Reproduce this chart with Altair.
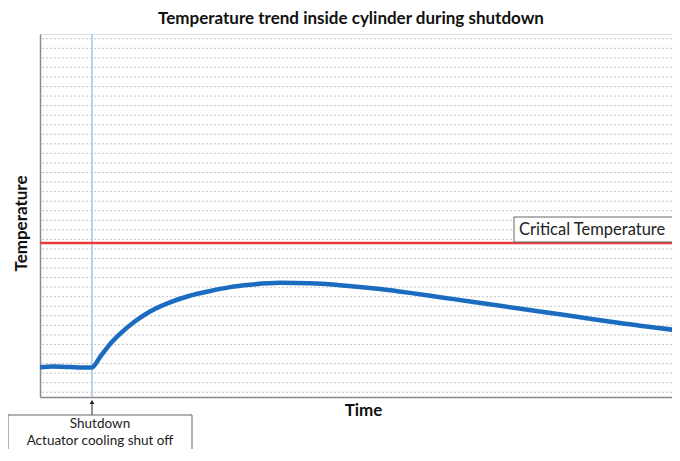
import altair as alt
import pandas as pd

# ---- data ----
time = [0, 2, 4, 6, 8.1, 9.4, 10.9, 12.5, 14.8, 17.2, 20.3, 23.4, 26.6, 29.7,
        32.8, 37.5, 42.2, 46.9, 53.1, 57.8, 62.5, 67.2, 71.9, 78.1, 84.4, 90.6, 100]
temp = [3.1, 3.2, 3.15, 3.1, 3.1, 4.2, 5.5, 6.6, 7.9, 8.95, 9.9, 10.6, 11.1,
        11.5, 11.75, 11.95, 11.9, 11.7, 11.3, 10.9, 10.45, 10.0, 9.55, 8.95,
        8.35, 7.75, 6.95]
critical_temp = [16.12]
shutdown_time = [8.125]
grid_values = [k + 0.5 for k in range(38)]

FONT = "Lato"

curve_df = pd.DataFrame({"Time": time, "Temperature": temp})
crit_df = pd.DataFrame({"y": critical_temp, "label": ["Critical Temperature"]})
shut_df = pd.DataFrame({"x": shutdown_time,
                        "label": ["Shutdown\nActuator cooling shut off"]})
grid_df = pd.DataFrame({"g": grid_values})

# visible window shows the time axis up to ~98.75 (the chart runs off the right edge)
xscale = alt.Scale(domain=[0, 98.75], nice=False, zero=False)
yscale = alt.Scale(domain=[0, 38], nice=False, zero=False)

grid = alt.Chart(grid_df).mark_rule(
    color="#c4c4c4", strokeWidth=1, strokeDash=[2, 2]
).encode(
    y=alt.Y("g:Q", scale=yscale,
            axis=alt.Axis(title="Temperature", labels=False, ticks=False, grid=False,
                          domainColor="#8a8a8a", domainWidth=1.5,
                          titleFont=FONT, titleFontSize=17, titleFontWeight="bold",
                          titleColor="#111", titlePadding=10, titleY=189))
)

curve = alt.Chart(curve_df).mark_line(
    color="#1b6cc0", strokeWidth=4.5, strokeCap="round", strokeJoin="round",
    interpolate="monotone", clip=True
).encode(
    x=alt.X("Time:Q", scale=xscale,
            axis=alt.Axis(title="Time", labels=False, ticks=False, grid=False,
                          domainColor="#8a8a8a", domainWidth=1.5,
                          titleFont=FONT, titleFontSize=17, titleFontWeight="bold",
                          titleColor="#111", titlePadding=5, titleX=323)),
    y=alt.Y("Temperature:Q", scale=yscale),
)

shut_line = alt.Chart(shut_df).mark_rule(color="#bcd3ea", strokeWidth=2).encode(
    x=alt.X("x:Q", scale=xscale)
)

crit_line = alt.Chart(crit_df).mark_rule(color="#ec3b36", strokeWidth=2.5).encode(
    y=alt.Y("y:Q", scale=yscale)
)

crit_box = alt.Chart(crit_df).mark_rect(
    fill="white", stroke="#666", strokeWidth=1
).encode(
    x=alt.value(474), x2=alt.value(660), y=alt.value(183), y2=alt.value(208)
)
crit_text = alt.Chart(crit_df).mark_text(
    align="left", baseline="middle", font=FONT, fontSize=16.5, color="#222"
).encode(x=alt.value(479), y=alt.value(196), text="label:N")

arrow_line = alt.Chart(shut_df).mark_rule(color="#222", strokeWidth=1).encode(
    x=alt.X("x:Q", scale=xscale), y=alt.value(367), y2=alt.value(381)
)
arrow_head = alt.Chart(shut_df).mark_point(
    shape="triangle-up", filled=True, color="#222", size=22, opacity=1
).encode(x=alt.X("x:Q", scale=xscale), y=alt.value(368))

shut_box = alt.Chart(shut_df).mark_rect(
    fill="white", stroke="#666", strokeWidth=1
).encode(
    x=alt.value(-32), x2=alt.value(152), y=alt.value(381), y2=alt.value(445)
)
shut_text = alt.Chart(shut_df).mark_text(
    align="center", baseline="middle", font=FONT, fontSize=13.5, color="#222",
    lineBreak="\n", lineHeight=17
).encode(x=alt.value(60), y=alt.value(390), text="label:N")

chart = alt.layer(
    grid, shut_line, crit_line, curve, crit_box, crit_text,
    arrow_line, arrow_head, shut_box, shut_text
).properties(
    width=632, height=363,
    autosize=alt.AutoSizeParams(type="none"),
    padding={"left": 32, "top": 26, "right": 0, "bottom": 52},
    title=alt.TitleParams(
        text="Temperature trend  inside cylinder during shutdown",
        font=FONT, fontSize=17, fontWeight="bold", color="#111",
        anchor="middle", dx=-5, offset=5
    ),
).configure_view(
    stroke="#8a8a8a", strokeWidth=1.5
).configure(background="white")

chart.save("out.html", embed_options={"renderer": "svg", "actions": False})
